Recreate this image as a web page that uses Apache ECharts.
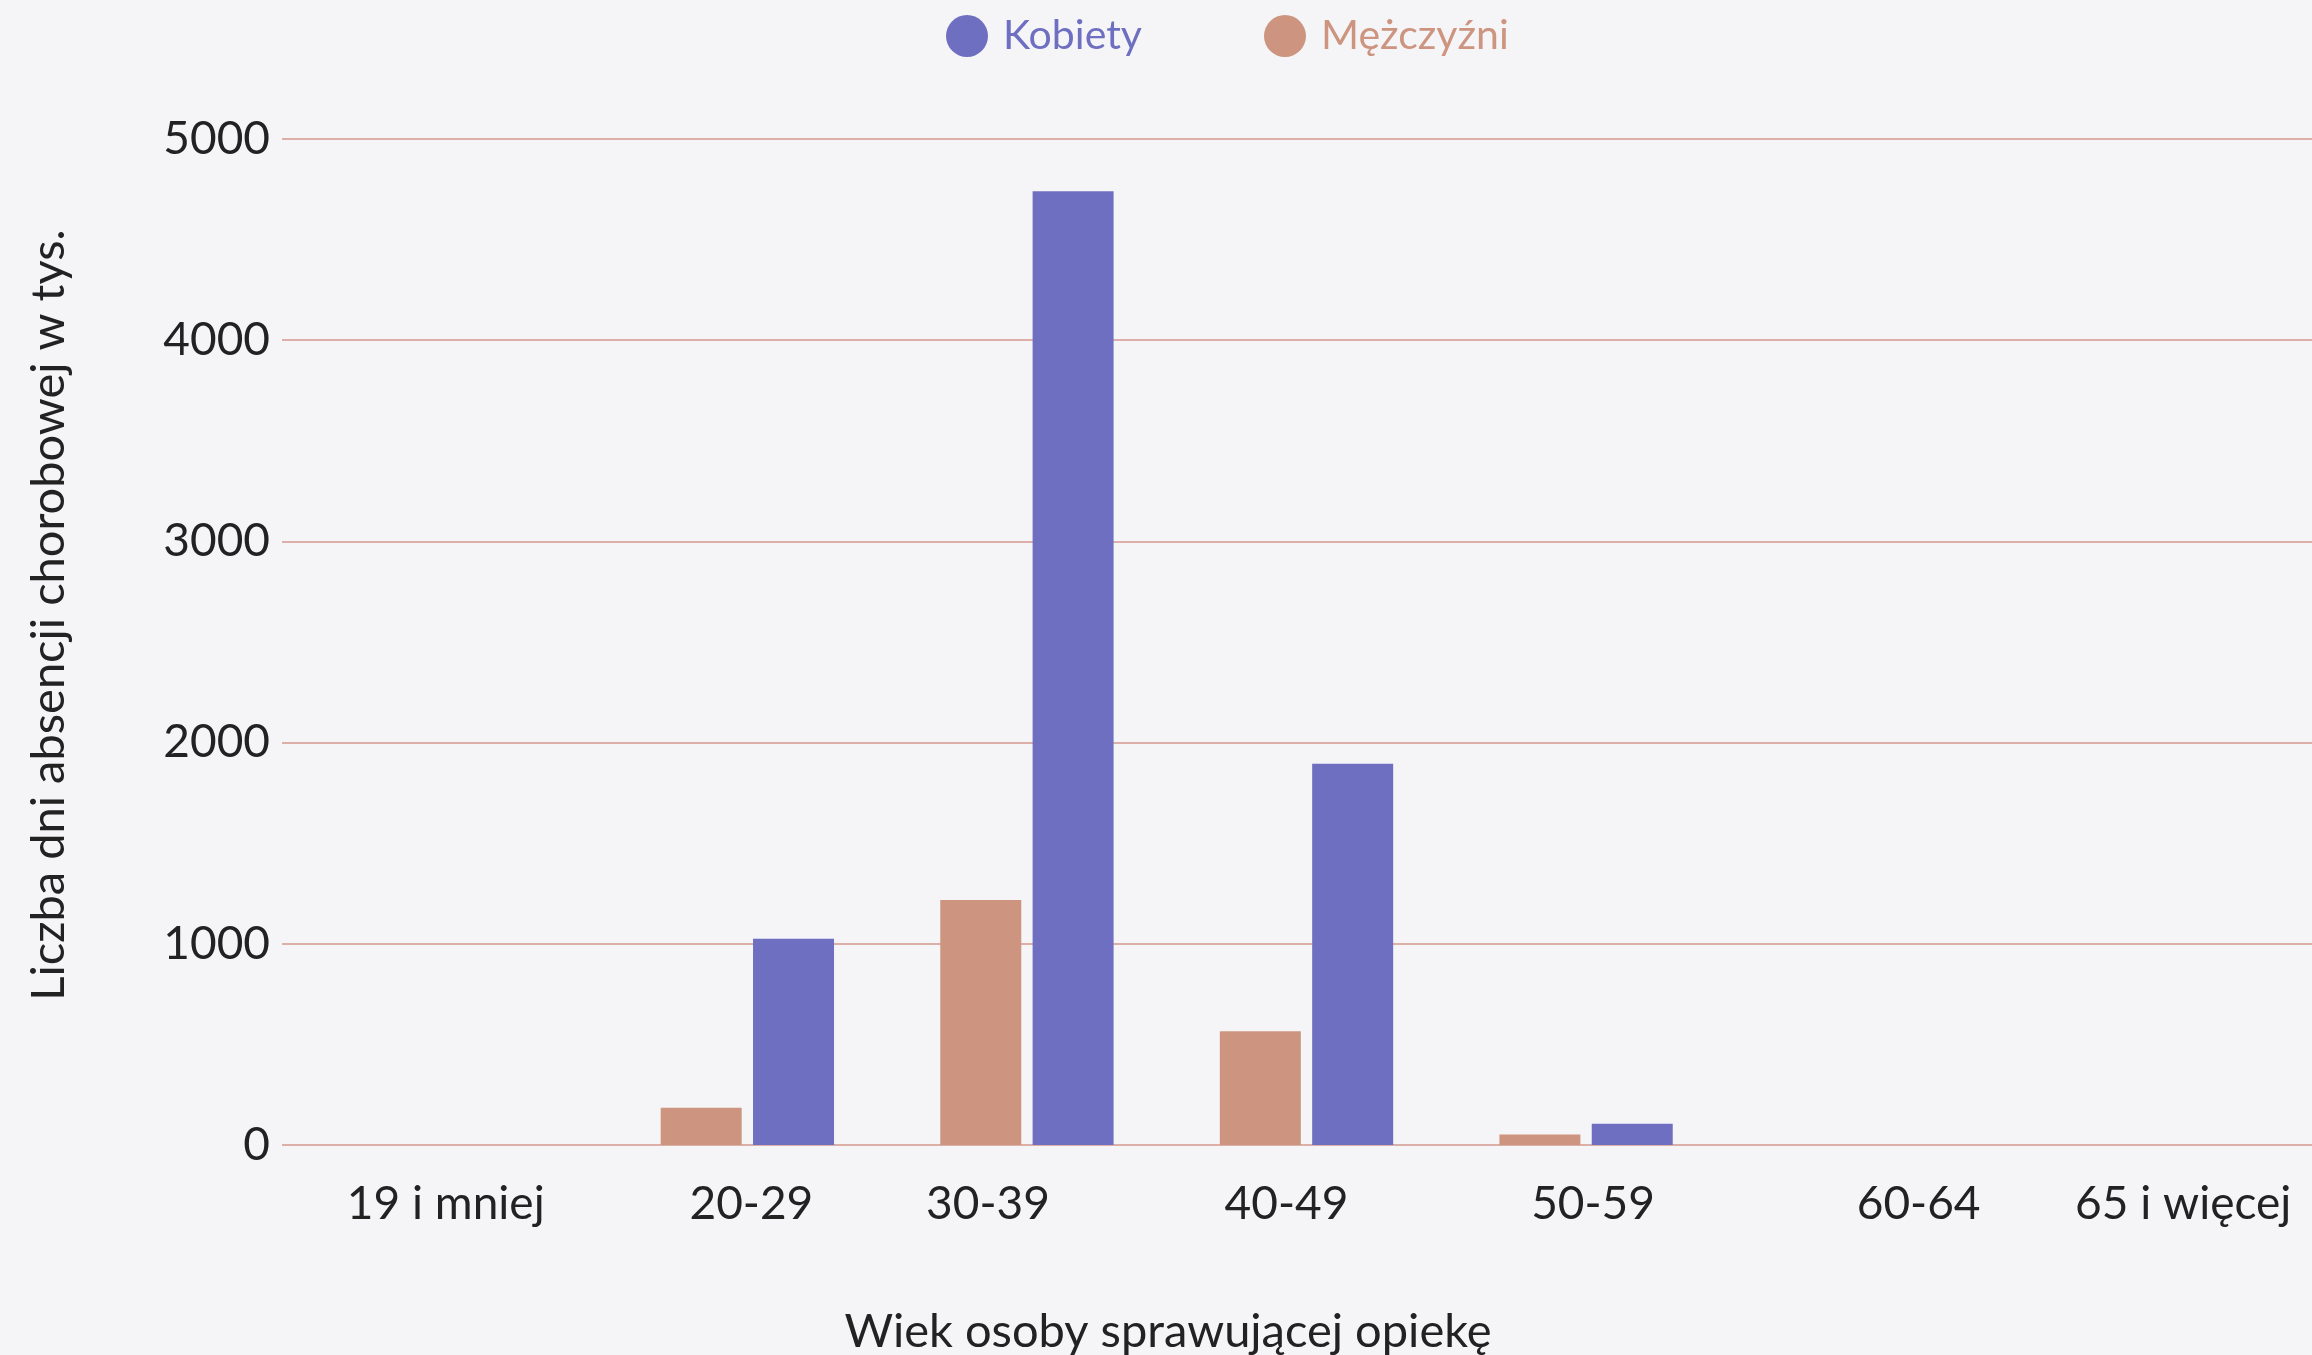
<!DOCTYPE html>
<html>
<head>
<meta charset="utf-8">
<script src="https://cdn.jsdelivr.net/npm/echarts@6/dist/echarts.min.js"></script>
<style>
html,body{margin:0;padding:0;background:#f5f5f8;}
#c{width:2312px;height:1355px;}
</style>
</head>
<body>
<div id="c"></div>
<script>
const categories = ['19 i mniej','20-29','30-39','40-49','50-59','60-64','65 i więcej'];
const kobiety = [0, 1025, 4740, 1895, 105, 0, 0];
const mezczyzni = [0, 185, 1218, 565, 52, 0, 0];
const yTicks = [0, 1000, 2000, 3000, 4000, 5000];

// layout: horizontal nudges of the category labels (px)
const labelShift = [-22, 4, -39, -20, 7, 53, 38];

const FONT = 'Lato';
const TXT = '#222222';
const rich = {};
labelShift.forEach((s, i) => {
  rich['s' + i] = {
    fontFamily: FONT, fontSize: 46, color: TXT,
    padding: s >= 0 ? [0, 0, 0, 2 * s] : [0, -2 * s, 0, 0]
  };
});

const chart = echarts.init(document.getElementById('c'));
chart.setOption({
  backgroundColor: '#f5f5f8',
  animation: false,
  textStyle: { fontFamily: FONT },
  legend: {
    top: 10,
    left: 941,
    icon: 'circle',
    itemWidth: 42,
    itemHeight: 42,
    itemGap: 122,
    selectedMode: false,
    textStyle: { fontSize: 41, fontFamily: FONT, padding: [0, 0, 0, 10] },
    data: [
      { name: 'Kobiety', textStyle: { color: '#6e6fc0' } },
      { name: 'Mężczyźni', textStyle: { color: '#cd9480' } }
    ]
  },
  grid: [
    { left: 282, right: 0, top: 139, bottom: 210, containLabel: false, outerBoundsMode: 'none' },
    { left: 328, right: 27, top: 139, bottom: 210, containLabel: false, outerBoundsMode: 'none' }
  ],
  xAxis: [
    { type: 'category', gridIndex: 0, data: categories, show: false },
    {
      type: 'category', gridIndex: 1, data: categories,
      axisLine: { show: false }, axisTick: { show: false },
      axisLabel: {
        margin: 36,
        interval: 0,
        formatter: (v, i) => '{s' + i + '|' + v + '}',
        rich: rich
      },
      name: 'Wiek osoby sprawującej opiekę',
      nameLocation: 'middle',
      nameGap: 163,
      nameTextStyle: { fontFamily: FONT, fontSize: 47, color: TXT, padding: [0, 277, 0, 0] }
    }
  ],
  yAxis: [
    {
      type: 'value', gridIndex: 0, min: yTicks[0], max: yTicks[yTicks.length - 1], interval: 1000,
      axisLine: { show: false }, axisTick: { show: false },
      splitLine: { lineStyle: { color: '#dcb0a8', width: 2 } },
      axisLabel: { fontFamily: FONT, fontSize: 46, color: TXT, margin: 12, formatter: v => String(v) },
      name: 'Liczba dni absencji chorobowej w tys.',
      nameLocation: 'middle',
      nameRotate: 90,
      nameGap: 210,
      nameTextStyle: { fontFamily: FONT, fontSize: 47, color: TXT, padding: [0, 0, 0, 54] }
    },
    {
      type: 'value', gridIndex: 1, min: yTicks[0], max: yTicks[yTicks.length - 1], interval: 1000,
      show: false, splitLine: { show: false }
    }
  ],
  series: [
    {
      name: 'Mężczyźni', type: 'bar', xAxisIndex: 1, yAxisIndex: 1,
      data: mezczyzni, barWidth: 81, barGap: '14%',
      itemStyle: { color: '#cd9480' }
    },
    {
      name: 'Kobiety', type: 'bar', xAxisIndex: 1, yAxisIndex: 1,
      data: kobiety, barWidth: 81, barGap: '14%',
      itemStyle: { color: '#6e6fc0' }
    }
  ]
});
</script>
</body>
</html>
